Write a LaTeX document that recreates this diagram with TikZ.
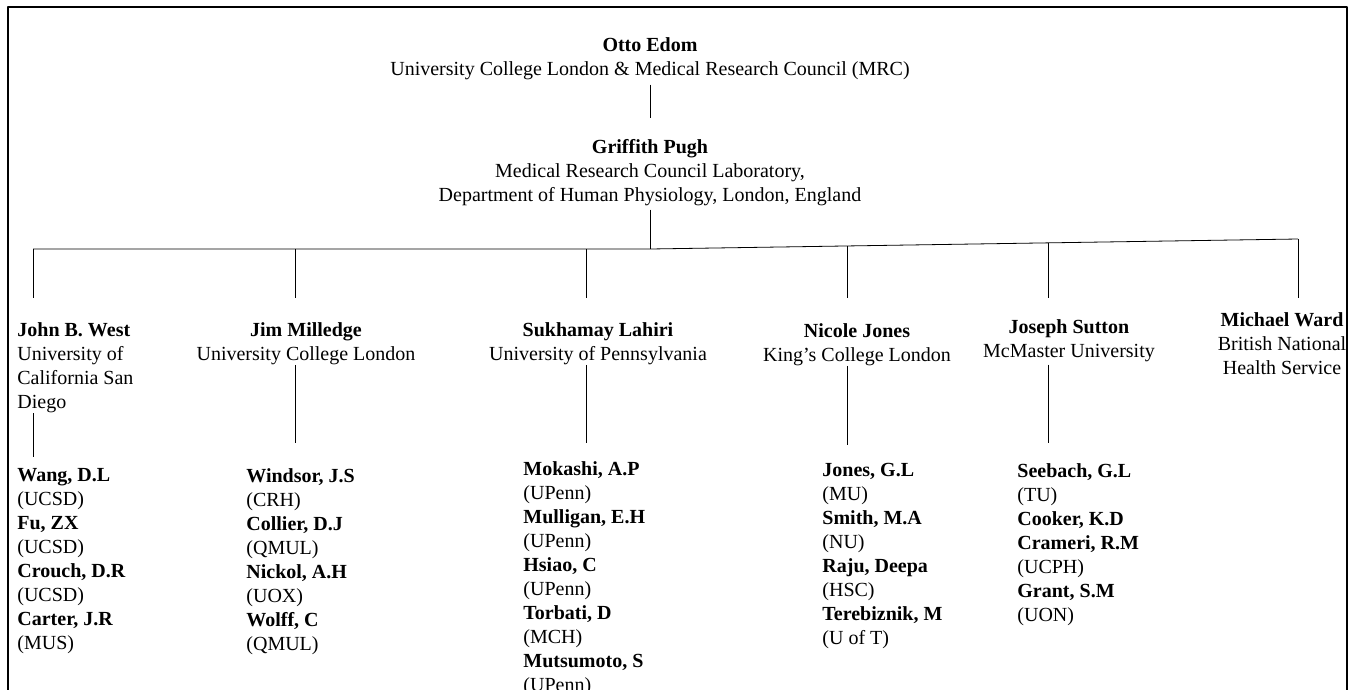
\documentclass[tikz,border=0pt]{standalone}
\usepackage{fontspec}
\setmainfont{Liberation Serif}
\begin{document}
\begin{tikzpicture}[x=0.75pt,y=-0.75pt,line join=round,line width=0.6pt]
	\tikzset{every node/.style={inner sep=0pt,font=\fontsize{15}{18}\selectfont},
		head/.style={align=center,anchor=north},
		group/.style={align=left,anchor=north west}}
	\useasboundingbox (0,0) rectangle (1349,689);
	\draw[line width=1.5pt] (8,720)--(8,7)--(1347,7)--(1347,720);
	% top of the tree
	\node[head] (otto) at (650,37) {\textbf{Otto Edom}\\University College London \& Medical Research Council (MRC)};
	\node[head] (pugh) at (650,139) {\textbf{Griffith Pugh}\\Medical Research Council Laboratory,\\Department of Human Physiology, London, England};
	% second level
	\node[group] (west) at (17,322) {\textbf{John B. West}\\University of\\California San\\Diego};
	\node[head] (milledge) at (306,322) {\textbf{Jim Milledge}\\University College London};
	\node[head] (lahiri) at (598,322) {\textbf{Sukhamay Lahiri}\\University of Pennsylvania};
	\node[head] (jones) at (857,323) {\textbf{Nicole Jones}\\King’s College London};
	\node[head] (sutton) at (1069,319) {\textbf{Joseph Sutton}\\McMaster University};
	\node[head] (ward) at (1282,312) {\textbf{Michael Ward}\\British National\\Health Service};
	% third level
	\node[group] (westlist) at (17,468) {\textbf{Wang, D.L}\\(UCSD)\\\textbf{Fu, ZX}\\(UCSD)\\\textbf{Crouch, D.R}\\(UCSD)\\\textbf{Carter, J.R}\\(MUS)};
	\node[group] (milledgelist) at (246,468) {\textbf{Windsor, J.S}\\(CRH)\\\textbf{Collier, D.J}\\(QMUL)\\\textbf{Nickol, A.H}\\(UOX)\\\textbf{Wolff, C}\\(QMUL)};
	\node[group] (lahirilist) at (523,461) {\textbf{Mokashi, A.P}\\(UPenn)\\\textbf{Mulligan, E.H}\\(UPenn)\\\textbf{Hsiao, C}\\(UPenn)\\\textbf{Torbati, D}\\(MCH)\\\textbf{Mutsumoto, S}\\(UPenn)};
	\node[group] (joneslist) at (822,463) {\textbf{Jones, G.L}\\(MU)\\\textbf{Smith, M.A}\\(NU)\\\textbf{Raju, Deepa}\\(HSC)\\\textbf{Terebiznik, M}\\(U of T)};
	\node[group] (suttonlist) at (1017,463) {\textbf{Seebach, G.L}\\(TU)\\\textbf{Cooker, K.D}\\\textbf{Crameri, R.M}\\(UCPH)\\\textbf{Grant, S.M}\\(UON)};
	% connectors
	\coordinate (hub) at (650,249);
	\coordinate (b1) at (33,249);
	\coordinate (b2) at (295,249);
	\coordinate (b3) at (586,249);
	\coordinate (b4) at (847,246);
	\coordinate (b5) at (1048,243);
	\coordinate (b6) at (1298,239);
	\coordinate (lvl) at (0,298);
	\draw[shorten <=3.4pt,shorten >=15.75pt] (otto) -- (pugh);
	\draw[shorten <=2.6pt] (pugh) -- (hub);
	\draw (b1) -- (hub) -- (b6);
	\foreach \i in {1,...,6}
		\draw (b\i) -- (b\i |- lvl);
	\draw[shorten >=8pt] (west.south -| b1) -- (westlist.north -| b1);
	\draw[shorten >=19pt] (milledge.south -| b2) -- (milledgelist.north -| b2);
	\draw[shorten >=13.5pt] (lahiri.south -| b3) -- (lahirilist.north -| b3);
	\draw[shorten >=13.5pt] (jones.south -| b4) -- (joneslist.north -| b4);
	\draw[shorten <=2pt,shorten >=15pt] (sutton.south -| b5) -- (suttonlist.north -| b5);
\end{tikzpicture}
\end{document}
